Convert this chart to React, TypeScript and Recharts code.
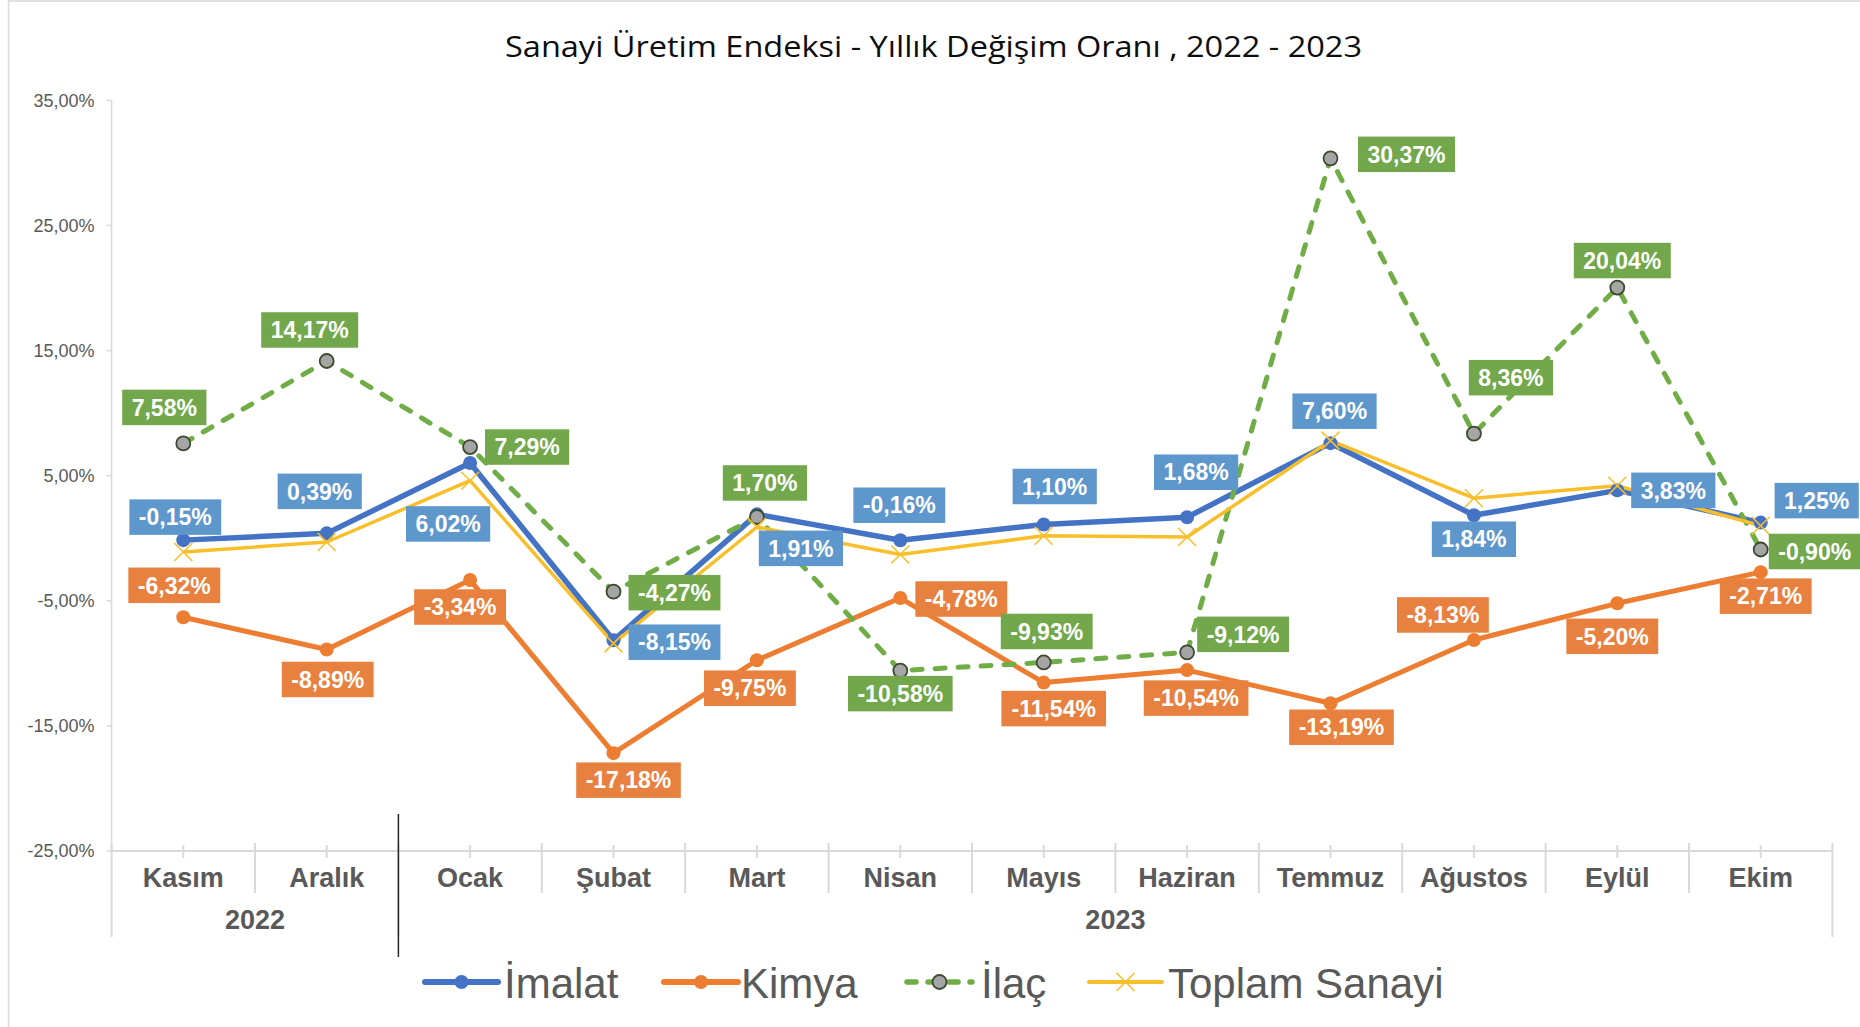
import React from 'react';
import { LineChart, Line, XAxis, YAxis, LabelList, Customized } from 'recharts';

const months = ['Kasım', 'Aralık', 'Ocak', 'Şubat', 'Mart', 'Nisan', 'Mayıs', 'Haziran', 'Temmuz', 'Ağustos', 'Eylül', 'Ekim'];
const imalat = [-0.15, 0.39, 6.02, -8.15, 1.91, -0.16, 1.1, 1.68, 7.6, 1.84, 3.83, 1.25];
const kimya = [-6.32, -8.89, -3.34, -17.18, -9.75, -4.78, -11.54, -10.54, -13.19, -8.13, -5.2, -2.71];
const ilac = [7.58, 14.17, 7.29, -4.27, 1.7, -10.58, -9.93, -9.12, 30.37, 8.36, 20.04, -0.9];
const toplam = [-1.1, -0.3, 4.6, -8.4, 0.9, -1.3, 0.2, 0.1, 7.8, 3.2, 4.2, 1.0];
const yearGroups = [
  { label: '2022', from: 0, to: 1 },
  { label: '2023', from: 2, to: 11 },
];
const yTicks = [-25, -15, -5, 5, 15, 25, 35];
const seriesNames = ['İmalat', 'Kimya', 'İlaç', 'Toplam Sanayi'];

const data = months.map((m, i) => ({
  month: m,
  imalat: imalat[i],
  kimya: kimya[i],
  ilac: ilac[i],
  toplam: toplam[i],
}));

// layout / style
const W = 1860;
const H = 1027;
const PLOT_L = 111.6;
const PLOT_R = 1832.4;
const PLOT_T = 100.4;
const PLOT_B = 851;
const BAND = (PLOT_R - PLOT_L) / months.length;
const GREY = '#595959';
const AXIS = '#D9D9D9';
const FONT = '"Liberation Sans", Arial, sans-serif';

const C_IMALAT = '#4472C4';
const C_KIMYA = '#ED7D31';
const C_ILAC = '#70AD47';
const C_TOPLAM = '#F8BF2B';
const BOX_IMALAT = '#5E97CC';
const BOX_KIMYA = '#E8803F';
const BOX_ILAC = '#72A74B';

// label offsets (dx, dy) from the point to the label box centre
const offImalat: [number, number][] = [[-8, -23], [-7, -42], [-22, 61], [61, 2], [44, 34], [-1, -35], [11, -38], [9, -45], [4, -32], [0, 24], [56, 0], [56, -22]];
const offKimya: [number, number][] = [[-9, -32], [1, 30], [-10, 27], [15, 27], [-7, 28], [61, 1], [10, 26], [9, 28], [11, 24], [-31, -25], [-5, 33], [5, 24]];
const offIlac: [number, number][] = [[-19, -36], [-17, -31], [57, 0], [61, 1], [8, -34], [0, 23], [3, -31], [56, -18], [76, -4], [37, -56], [5, -27], [54, 2]];

const fmt = (v: number) => v.toFixed(2).replace('.', ',') + '%';

const charW: Record<string, number> = { ',': 0.278, '%': 0.889, '-': 0.333 };
const textWidth = (s: string, size: number) =>
  s.split('').reduce((a, c) => a + (charW[c] ?? 0.556), 0) * size;

const makeLabel = (offsets: [number, number][], fill: string) => (props: any) => {
  const { x, y, value, index } = props;
  if (x == null || y == null || value == null) return null;
  const [dx, dy] = offsets[index] || [0, 0];
  const txt = fmt(Number(value));
  const fs = 23;
  const tw = textWidth(txt, fs);
  const bw = tw + 19;
  const bh = 35.5;
  const cx = x + dx;
  const cy = y + dy;
  return (
    <g key={`lbl-${index}`}>
      <rect x={cx - bw / 2} y={cy - bh / 2} width={bw} height={bh} fill={fill} />
      <text x={cx} y={cy + 8.2} textAnchor="middle" fontFamily={FONT} fontWeight="bold" fontSize={fs} fill="#FFFFFF">
        {txt}
      </text>
    </g>
  );
};

const MonthTick = (props: any) => {
  const { x, index, payload } = props;
  const xl = x - BAND / 2;
  const groupStart = yearGroups.some((g) => g.from === index);
  const els: React.ReactNode[] = [];
  els.push(<line key="lb" x1={xl} x2={xl} y1={843} y2={groupStart ? 937 : 893} stroke={AXIS} strokeWidth={2} />);
  if (index === months.length - 1) {
    els.push(<line key="rb" x1={x + BAND / 2} x2={x + BAND / 2} y1={843} y2={937} stroke={AXIS} strokeWidth={2} />);
  }
  if (groupStart && index > 0) {
    els.push(<line key="blk" x1={xl} x2={xl} y1={814} y2={957} stroke="#262626" strokeWidth={1.5} />);
  }
  els.push(<line key="ct" x1={x} x2={x} y1={845} y2={858} stroke={AXIS} strokeWidth={2} />);
  els.push(
    <text key="m" x={x} y={886.5} textAnchor="middle" fontFamily={FONT} fontWeight="bold" fontSize={27} fill={GREY}>
      {payload.value}
    </text>
  );
  yearGroups.forEach((g) => {
    if (g.from === index) {
      const cx = x + ((g.to - g.from) / 2) * BAND;
      els.push(
        <text key={'y' + g.label} x={cx} y={928.5} textAnchor="middle" fontFamily={FONT} fontWeight="bold" fontSize={27} fill={GREY}>
          {g.label}
        </text>
      );
    }
  });
  return <g>{els}</g>;
};

const ilacDot = (props: any) => {
  const { cx, cy, index } = props;
  if (cx == null || cy == null) return <g key={`d${index}`} />;
  return <circle key={`d${index}`} cx={cx} cy={cy} r={7} fill="#A5A5A5" stroke="#3D4A30" strokeWidth={1.8} />;
};

const crossDot = (props: any) => {
  const { cx, cy, index } = props;
  if (cx == null || cy == null) return <g key={`x${index}`} />;
  const s = 9;
  return (
    <g key={`x${index}`}>
      <line x1={cx - s} y1={cy - s} x2={cx + s} y2={cy + s} stroke={C_TOPLAM} strokeWidth={1.6} />
      <line x1={cx - s} y1={cy + s} x2={cx + s} y2={cy - s} stroke={C_TOPLAM} strokeWidth={1.6} />
    </g>
  );
};

const Decor = () => {
  const ly = 982;
  const items = [
    { name: seriesNames[0], x1: 425, x2: 498, tx: 504, color: C_IMALAT, kind: 'dot' },
    { name: seriesNames[1], x1: 664, x2: 738, tx: 741, color: C_KIMYA, kind: 'dot' },
    { name: seriesNames[2], x1: 904, x2: 975, tx: 981, color: C_ILAC, kind: 'ilac' },
    { name: seriesNames[3], x1: 1089, x2: 1162, tx: 1168, color: C_TOPLAM, kind: 'cross' },
  ];
  return (
    <g>
      <line x1={8.5} x2={8.5} y1={0} y2={H} stroke={AXIS} strokeWidth={1.5} />
      <line x1={8} x2={W} y1={1} y2={1} stroke={AXIS} strokeWidth={1.5} />
      <text x={933.5} y={57} textAnchor="middle" fontFamily='"Open Sans", sans-serif' fontSize={29} fill="#0D0D0D" textLength={857} lengthAdjust="spacingAndGlyphs">
        Sanayi Üretim Endeksi - Yıllık Değişim Oranı , 2022 - 2023
      </text>
      {items.map((it) => {
        const mx = (it.x1 + it.x2) / 2;
        return (
          <g key={it.name}>
            {it.kind === 'ilac' ? (
              <line x1={it.x1 + 3} x2={it.x2 - 3} y1={ly} y2={ly} stroke={it.color} strokeWidth={5.5} strokeDasharray="9 12" strokeLinecap="round" />
            ) : (
              <line x1={it.x1} x2={it.x2} y1={ly} y2={ly} stroke={it.color} strokeWidth={it.kind === 'cross' ? 4 : 6} strokeLinecap="round" />
            )}
            {it.kind === 'dot' && <circle cx={mx} cy={ly} r={7} fill={it.color} />}
            {it.kind === 'ilac' && <circle cx={mx} cy={ly} r={7} fill="#A5A5A5" stroke="#3D4A30" strokeWidth={1.8} />}
            {it.kind === 'cross' && (
              <g>
                <line x1={mx - 9} y1={ly - 9} x2={mx + 9} y2={ly + 9} stroke={it.color} strokeWidth={1.6} />
                <line x1={mx - 9} y1={ly + 9} x2={mx + 9} y2={ly - 9} stroke={it.color} strokeWidth={1.6} />
              </g>
            )}
            <text x={it.tx} y={997.5} fontFamily={FONT} fontSize={42} fill={GREY}>
              {it.name}
            </text>
          </g>
        );
      })}
    </g>
  );
};

export default function App() {
  return (
    <div style={{ position: 'absolute', left: 0, top: 0, width: W, height: H, background: '#fff' }}>
      <style>{`body{margin:0;overflow:hidden;}`}</style>
      <LineChart
        width={W}
        height={H}
        data={data}
        margin={{ top: PLOT_T, right: W - PLOT_R, bottom: H - PLOT_B - 60, left: PLOT_L - 100 }}
      >
        <XAxis
          dataKey="month"
          height={60}
          interval={0}
          padding={{ left: BAND / 2, right: BAND / 2 }}
          axisLine={{ stroke: AXIS, strokeWidth: 2 }}
          tickLine={false}
          tick={<MonthTick />}
        />
        <YAxis
          type="number"
          width={100}
          domain={[-25, 35]}
          ticks={yTicks}
          interval={0}
          allowDataOverflow
          tickFormatter={(v: number) => v.toFixed(2).replace('.', ',') + '%'}
          axisLine={{ stroke: AXIS, strokeWidth: 1.5 }}
          tickLine={{ stroke: AXIS, strokeWidth: 1.5 }}
          tickSize={5}
          tickMargin={12}
          tick={{ fontFamily: FONT, fontSize: 18, fill: GREY }}
        />
        <Line dataKey="imalat" name={seriesNames[0]} stroke={C_IMALAT} strokeWidth={5.5} dot={{ r: 7, fill: C_IMALAT, stroke: C_IMALAT, strokeWidth: 0 }} activeDot={false} isAnimationActive={false} strokeLinejoin="round" />
        <Line dataKey="kimya" name={seriesNames[1]} stroke={C_KIMYA} strokeWidth={5} dot={{ r: 7, fill: C_KIMYA, stroke: C_KIMYA, strokeWidth: 0 }} activeDot={false} isAnimationActive={false} strokeLinejoin="round" />
        <Line dataKey="ilac" name={seriesNames[2]} stroke={C_ILAC} strokeWidth={5} strokeDasharray="10 13" strokeLinecap="round" dot={ilacDot} activeDot={false} isAnimationActive={false} />
        <Line dataKey="toplam" name={seriesNames[3]} stroke={C_TOPLAM} strokeWidth={3.5} dot={crossDot} activeDot={false} isAnimationActive={false} strokeLinejoin="round" />
        <Line dataKey="imalat" stroke="none" dot={false} activeDot={false} legendType="none" isAnimationActive={false}>
          <LabelList dataKey="imalat" content={makeLabel(offImalat, BOX_IMALAT)} />
        </Line>
        <Line dataKey="kimya" stroke="none" dot={false} activeDot={false} legendType="none" isAnimationActive={false}>
          <LabelList dataKey="kimya" content={makeLabel(offKimya, BOX_KIMYA)} />
        </Line>
        <Line dataKey="ilac" stroke="none" dot={false} activeDot={false} legendType="none" isAnimationActive={false}>
          <LabelList dataKey="ilac" content={makeLabel(offIlac, BOX_ILAC)} />
        </Line>
        <Customized component={Decor} />
      </LineChart>
    </div>
  );
}
